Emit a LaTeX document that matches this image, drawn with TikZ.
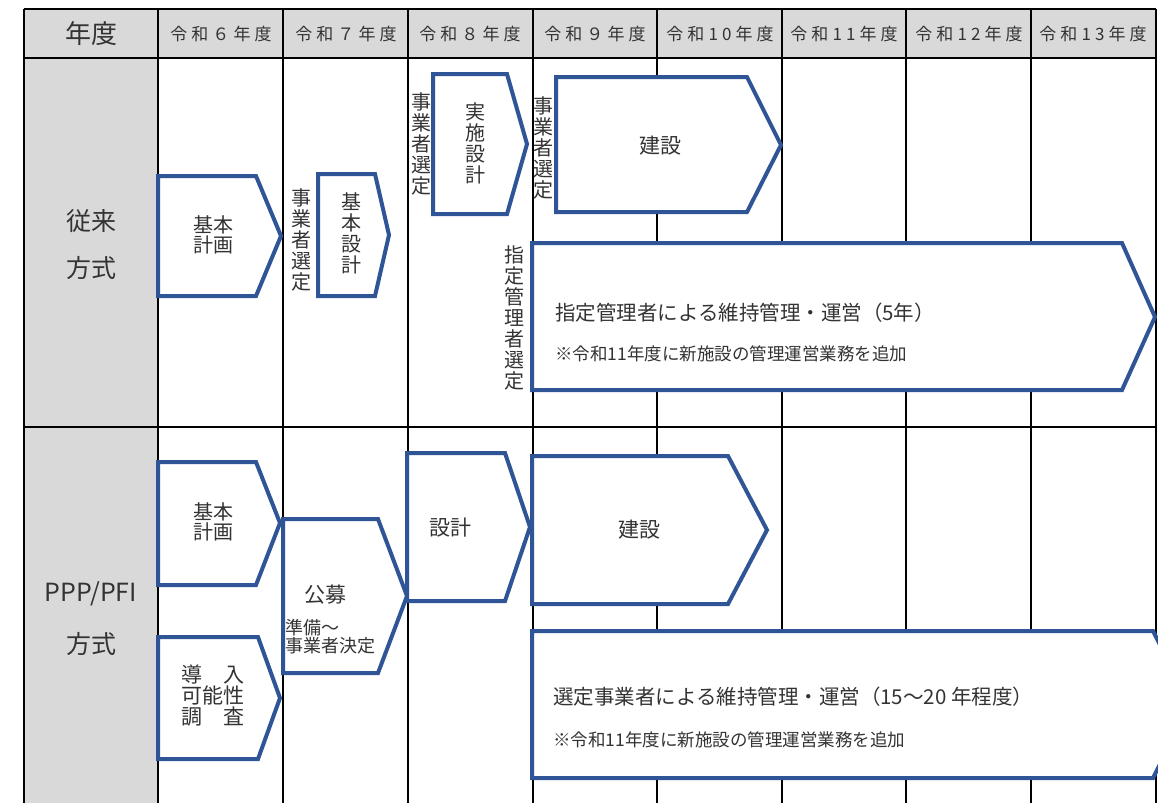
\documentclass[tikz,border=0pt]{standalone}
\usepackage{fontspec}
\setmainfont{Noto Sans CJK JP}
\newfontfamily\hdfont[LetterSpace=24]{Noto Sans CJK JP}
\definecolor{pblue}{HTML}{2F5597}
\definecolor{hgray}{HTML}{D9D9D9}
\definecolor{ink}{HTML}{333333}

\tikzset{
  tabline/.style={line width=2.5pt, black},
  phase/.style={draw=pblue, line width=4pt, fill=white, line join=miter},
  head/.style={text=ink, inner sep=0pt, font=\hdfont\fontsize{17}{17}\selectfont},
  side/.style={text=ink, inner sep=0pt, font=\fontsize{25}{25}\selectfont},
  lab/.style={text=ink, inner sep=0pt, align=center, font=\fontsize{21}{21}\selectfont},
  vlab/.style={text=ink, inner sep=0pt, align=center, font=\fontsize{20}{21}\selectfont},
  opr/.style={text=ink, inner sep=0pt, anchor=west, font=\fontsize{20.5}{20.5}\selectfont},
  note/.style={text=ink, inner sep=0pt, anchor=west, font=\fontsize{17.5}{17.5}\selectfont},
}

\begin{document}
\begin{tikzpicture}[x=1pt, y=-1pt]
\useasboundingbox (0,0) rectangle (1158,803);
\clip (0,0) rectangle (1158,803);

% table background
\fill[hgray] (24,9) rectangle (1156,58);
\fill[hgray] (24,58) rectangle (158,803);

% table rules
\foreach \x in {24,158,283,408,533,657,782,906,1031,1156}
  \draw[tabline] (\x,9) -- (\x,803);
\draw[tabline] (24,9) -- (1156,9);
\draw[tabline] (24,58) -- (1156,58);
\draw[tabline] (24,427) -- (1156,427);

% header
\node[side, font=\fontsize{26}{26}\selectfont] (nendo) at (91,34) {年度};
\foreach \x/\y in {221/６,346/７,470/８,595/９,720/10,844/11,969/12,1093/13}
  \node[head] (fy\y) at (\x,34) {令和\y 年度};

\node[side] (juraiA) at (91,221) {従来};
\node[side] (juraiB) at (91,268) {方式};
\node[side] (pppA) at (91,594) {PPP/PFI};
\node[side] (pppB) at (91,644) {方式};

% conventional
\draw[phase] (158,176) -- (256,176) -- (281,236) -- (256,296) -- (158,296) -- cycle;
\draw[phase] (318,174) -- (375,174) -- (389,235) -- (375,296) -- (318,296) -- cycle;
\draw[phase] (433,74) -- (507,74) -- (527,144) -- (507,214) -- (433,214) -- cycle;
\draw[phase] (556,77) -- (747,77) -- (781,145) -- (747,212) -- (556,212) -- cycle;
\draw[phase] (532,243) -- (1122,243) -- (1155,317) -- (1122,390) -- (532,390) -- cycle;

\node[lab, font=\fontsize{20}{20}\selectfont] (kihonA) at (213,235) {基本\\計画};
\node[vlab] (senA) at (301,240) {事\\業\\者\\選\\定};
\node[vlab] (kset) at (351,233) {基\\本\\設\\計};
\node[vlab] (senB) at (421,144) {事\\業\\者\\選\\定};
\node[vlab] (jset) at (475,143) {実\\施\\設\\計};
\node[vlab] (senC) at (543,148) {事\\業\\者\\選\\定};
\node[lab] (kenA) at (660,146) {建設};
\node[vlab] (shitei) at (514,318) {指\\定\\管\\理\\者\\選\\定};
\node[opr] (unA) at (555,313) {指定管理者による維持管理・運営（5年）};
\node[note] (noteA) at (555,354) {※令和11年度に新施設の管理運営業務を追加};

% PPP/PFI
\draw[phase] (158,462) -- (256,462) -- (280,523) -- (256,585) -- (158,585) -- cycle;
\draw[phase] (158,637) -- (258,637) -- (280,698) -- (258,759) -- (158,759) -- cycle;
\draw[phase] (283,519) -- (378,519) -- (407,596) -- (378,673) -- (283,673) -- cycle;
\draw[phase] (407,453) -- (505,453) -- (530,527) -- (505,601) -- (407,601) -- cycle;
\draw[phase] (532,456) -- (728,456) -- (767,530) -- (728,604) -- (532,604) -- cycle;
\draw[phase] (532,631) -- (1153,631) -- (1190,704) -- (1153,778) -- (532,778) -- cycle;

\node[lab, font=\fontsize{20}{20}\selectfont] (kihonB) at (213,522) {基本\\計画};
\node[lab] (donyu) at (213,696) {導　入\\可能性\\調　査};
\node[lab] (koubo) at (325,595) {公募};
\node[lab, anchor=north west, align=left, font=\fontsize{18}{18}\selectfont] (junbi) at (285,619) {準備～\\事業者決定};
\node[lab] (sekkei) at (450,528) {設計};
\node[lab] (kenB) at (639,530) {建設};
\node[opr] (unB) at (553,697) {選定事業者による維持管理・運営（15～20 年程度）};
\node[note] (noteB) at (553,740) {※令和11年度に新施設の管理運営業務を追加};
\end{tikzpicture}
\end{document}
